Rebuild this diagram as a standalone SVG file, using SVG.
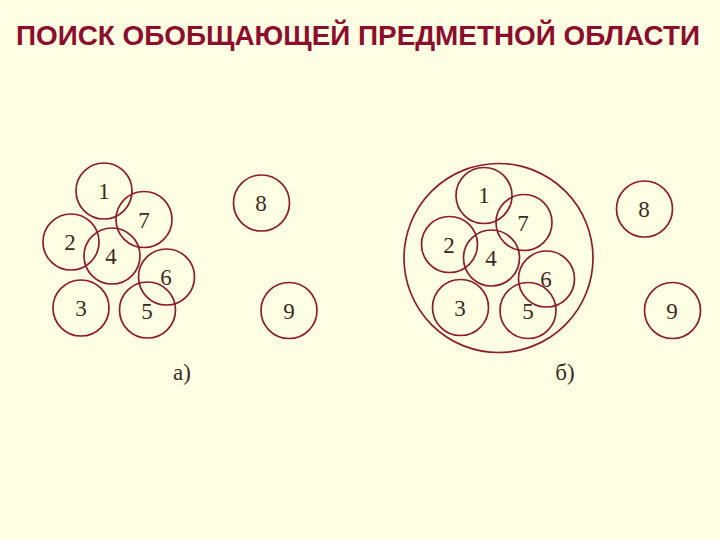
<svg xmlns="http://www.w3.org/2000/svg" width="720" height="540" viewBox="0 0 720 540">
<style>
.c{fill:none;stroke:#8e1c2c;stroke-width:1.7}
.n{font-family:"Liberation Serif",serif;font-size:23px;fill:#3b2b24;text-anchor:middle}
.t{font-family:"Liberation Sans",Arial,sans-serif;font-weight:bold;font-size:28px;fill:#8c0d2e}
</style>
<rect width="720" height="540" fill="#fefee2"/>
<text class="t" x="16" y="45" textLength="684" lengthAdjust="spacingAndGlyphs">ПОИСК ОБОБЩАЮЩЕЙ ПРЕДМЕТНОЙ ОБЛАСТИ</text>
<g id="a">
<g id="a1"><circle class="c" cx="104" cy="191" r="28"/><text class="n" x="104" y="199">1</text></g>
<g id="a7"><circle class="c" cx="144" cy="219.5" r="28"/><text class="n" x="144" y="228">7</text></g>
<g id="a2"><circle class="c" cx="71" cy="242" r="28"/><text class="n" x="70" y="250">2</text></g>
<g id="a4"><circle class="c" cx="112" cy="256" r="28"/><text class="n" x="111" y="264">4</text></g>
<g id="a6"><circle class="c" cx="166.5" cy="277" r="28"/><text class="n" x="166" y="285">6</text></g>
<g id="a3"><circle class="c" cx="81" cy="308" r="28"/><text class="n" x="81" y="316">3</text></g>
<g id="a5"><circle class="c" cx="147.5" cy="310" r="28"/><text class="n" x="147" y="319">5</text></g>
<g id="a8"><circle class="c" cx="261.5" cy="203" r="28"/><text class="n" x="261" y="211">8</text></g>
<g id="a9"><circle class="c" cx="289" cy="310.5" r="28"/><text class="n" x="289" y="319">9</text></g>
<text class="n" x="182" y="380">а)</text>
</g>
<g id="b">
<g id="bbig"><circle class="c" cx="498.5" cy="258" r="94.5"/></g>
<g id="b1"><circle class="c" cx="484" cy="195.5" r="28"/><text class="n" x="484" y="203">1</text></g>
<g id="b7"><circle class="c" cx="524" cy="222.5" r="28"/><text class="n" x="523" y="231">7</text></g>
<g id="b2"><circle class="c" cx="449.5" cy="244.5" r="28"/><text class="n" x="449" y="253">2</text></g>
<g id="b4"><circle class="c" cx="491.5" cy="258" r="28"/><text class="n" x="491" y="266">4</text></g>
<g id="b6"><circle class="c" cx="546.5" cy="279" r="28"/><text class="n" x="546" y="287">6</text></g>
<g id="b3"><circle class="c" cx="460.5" cy="307.5" r="28"/><text class="n" x="460" y="316">3</text></g>
<g id="b5"><circle class="c" cx="528" cy="310.5" r="28"/><text class="n" x="528" y="319">5</text></g>
<g id="b8"><circle class="c" cx="644.5" cy="209" r="28"/><text class="n" x="644" y="217">8</text></g>
<g id="b9"><circle class="c" cx="672.5" cy="310.5" r="28"/><text class="n" x="672" y="319">9</text></g>
<text class="n" x="565" y="380">б)</text>
</g>
<g id="connectors"/>
</svg>
